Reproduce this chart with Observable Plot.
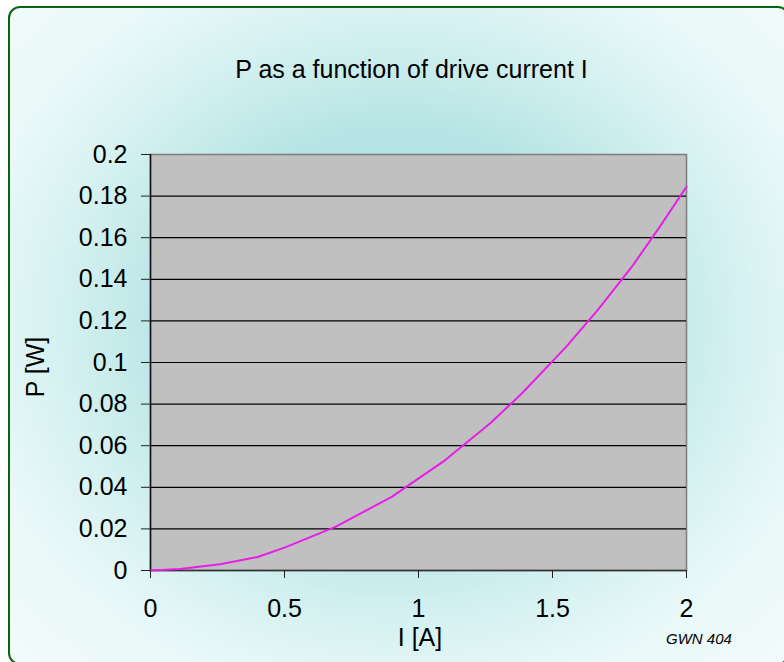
<!DOCTYPE html>
<html>
<head>
<meta charset="utf-8">
<script src="https://cdn.jsdelivr.net/npm/d3@7"></script>
<script src="https://cdn.jsdelivr.net/npm/@observablehq/plot@0.6"></script>
<style>
  html, body { margin: 0; padding: 0; background: #ffffff; overflow: hidden; width: 784px; height: 662px; }
  #frame {
    position: absolute; left: 8px; top: 6px; width: 778px; height: 655px;
    border: 2px solid #0a640f; border-radius: 12px;
    background: radial-gradient(ellipse farthest-corner at 50% 48%, #a9dfdf 0%, #b6e4e4 40%, #d3f0f0 60%, #e9f8f8 78%, #f2fbfb 100%);
  }
  #chart { position: absolute; left: 0; top: 0; }
  .t { position: absolute; font-family: "Liberation Sans", Arial, sans-serif; color: #000; white-space: nowrap; }
  #title { font-size: 25px; line-height: 25px; left: 411.5px; top: 57px; transform: translateX(-50%); }
  #xlabel { font-size: 25px; line-height: 25px; left: 420px; top: 625px; transform: translateX(-50%); }
  #ylabel { font-size: 25px; line-height: 25px; left: 35px; top: 367px; transform: translate(-50%, -50%) rotate(-90deg); }
  #note { font-size: 15px; line-height: 15px; font-style: italic; left: 666px; top: 631px; }
</style>
</head>
<body>
<div id="frame"></div>
<div id="chart"></div>
<div class="t" id="title">P as a function of drive current I</div>
<div class="t" id="xlabel">I [A]</div>
<div class="t" id="ylabel">P [W]</div>
<div class="t" id="note">GWN 404</div>
<script>
// Data
const currentA = [0, 0.11, 0.26, 0.40, 0.50, 0.69, 0.90, 1.10, 1.27, 1.39, 1.55, 1.67, 1.80, 1.90, 2.00];
const powerW   = [0, 0.0007, 0.003, 0.0065, 0.011, 0.021, 0.0354, 0.0531, 0.071, 0.0857, 0.1074, 0.1254, 0.1467, 0.1652, 0.1845];
const xTicks = [0, 0.5, 1, 1.5, 2];
const yTicks = [0, 0.02, 0.04, 0.06, 0.08, 0.1, 0.12, 0.14, 0.16, 0.18, 0.2];

const data = currentA.map((c, i) => ({ I: c, P: powerW[i] }));
const fmt = d => String(+d.toFixed(2));

const chart = Plot.plot({
  width: 784,
  height: 662,
  marginLeft: 150,
  marginRight: 98,
  marginTop: 154,
  marginBottom: 92,
  style: { background: "transparent", fontFamily: "'Liberation Sans', Arial, sans-serif", fontSize: "25px", color: "#000" },
  x: { domain: [0, 2] },
  y: { domain: [0, 0.2] },
  marks: [
    Plot.frame({ fill: "#c0c0c0", stroke: "#808080", strokeWidth: 1.6 }),
    Plot.ruleY(yTicks.filter(d => d > 0 && d < 0.2), { stroke: "#000", strokeWidth: 1.2 }),
    Plot.ruleX([0], { stroke: "#111", strokeWidth: 1.5 }),
    Plot.ruleY([0], { stroke: "#333", strokeWidth: 1.5 }),
    Plot.line(data, { x: "I", y: "P", stroke: "#e61ee8", strokeWidth: 2 }),
    Plot.axisY({ ticks: yTicks, tickSize: 9, tickPadding: 14, tickFormat: fmt, fontSize: 25, stroke: "#222", label: null }),
    Plot.axisX({ ticks: xTicks, tickSize: 8, tickPadding: 21, tickFormat: fmt, fontSize: 25, stroke: "#222", label: null })
  ]
});
document.getElementById("chart").appendChild(chart);
</script>
</body>
</html>
